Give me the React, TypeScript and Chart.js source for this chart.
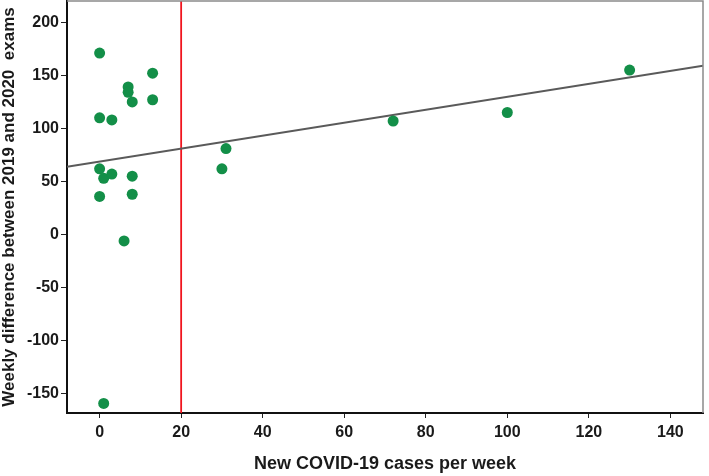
import { useEffect, useRef } from "react";
import { Chart, registerables } from "chart.js";

Chart.register(...registerables);

const casesPerWeek = [0, 13, 7, 7, 8, 13, 0, 3, 0, 1, 3, 8, 0, 8, 6, 1, 30, 31, 72, 100, 130];
const weeklyDifference = [171, 152, 139, 134, 125, 127, 110, 108, 62, 53, 57, 55, 36, 38, -6, -159, 62, 81, 107, 115, 155];
const fitLineX = [-8, 148];
const fitLineY = [64, 159];
const thresholdCases = 20;
const xTickValues = [0, 20, 40, 60, 80, 100, 120, 140];
const yTickValues = [-150, -100, -50, 0, 50, 100, 150, 200];

const FONT = "'Liberation Sans', Arial, sans-serif";
const TEXT = "#1a1a1a";

const framePlugin = {
  id: "frame",
  beforeDatasetsDraw(chart: any) {
    const { ctx, chartArea, scales } = chart;
    const x = scales.x.getPixelForValue(thresholdCases);
    ctx.save();
    ctx.strokeStyle = "#f0141e";
    ctx.lineWidth = 1.8;
    ctx.beginPath();
    ctx.moveTo(x, chartArea.top);
    ctx.lineTo(x, chartArea.bottom);
    ctx.stroke();
    ctx.restore();
  },
  afterDraw(chart: any) {
    const { ctx, chartArea } = chart;
    ctx.save();
    ctx.strokeStyle = "#8a8a8a";
    ctx.lineWidth = 1.5;
    ctx.beginPath();
    ctx.moveTo(chartArea.left, chartArea.top);
    ctx.lineTo(chartArea.right, chartArea.top);
    ctx.lineTo(chartArea.right, chartArea.bottom);
    ctx.stroke();
    ctx.restore();
  },
};

export default function App() {
  const ref = useRef<HTMLCanvasElement>(null);
  useEffect(() => {
    document.body.style.margin = "0";
    const points = casesPerWeek.map((x, i) => ({ x, y: weeklyDifference[i] }));
    const fit = fitLineX.map((x, i) => ({ x, y: fitLineY[i] }));
    const chart = new Chart(ref.current!, {
      type: "scatter",
      data: {
        datasets: [
          {
            data: points,
            backgroundColor: "#138f48",
            borderWidth: 0,
            pointRadius: 5.5,
            order: 0,
          },
          {
            type: "line",
            data: fit,
            borderColor: "#5a5a5a",
            borderWidth: 2,
            pointRadius: 0,
            fill: false,
            order: 1,
          } as any,
        ],
      },
      options: {
        responsive: false,
        animation: false,
        layout: { autoPadding: false, padding: { top: 1, right: 6, left: 0, bottom: 0 } },
        plugins: { legend: { display: false }, tooltip: { enabled: false } },
        scales: {
          x: {
            type: "linear",
            min: -8,
            max: 148,
            afterBuildTicks: (s: any) => {
              s.ticks = xTickValues.map((v) => ({ value: v }));
            },
            afterFit: (s: any) => {
              s.height = 63;
              s.paddingLeft = 0;
              s.paddingRight = 0;
            },
            grid: { drawOnChartArea: false, drawTicks: true, tickLength: 5, color: "#222" },
            border: { color: "#111", width: 2 },
            ticks: {
              font: { family: FONT, size: 16, weight: "bold" },
              color: TEXT,
              padding: 5,
              maxRotation: 0,
              autoSkip: false,
            },
            title: {
              display: true,
              text: "New COVID-19 cases per week",
              font: { family: FONT, size: 18, weight: "bold", lineHeight: 1 },
              color: TEXT,
              padding: { top: 0, bottom: 3 },
            },
          },
          y: {
            type: "linear",
            min: -168,
            max: 220,
            afterBuildTicks: (s: any) => {
              s.ticks = yTickValues.map((v) => ({ value: v }));
            },
            afterFit: (s: any) => {
              s.width = 67;
              s.paddingTop = 0;
              s.paddingBottom = 0;
            },
            grid: { drawOnChartArea: false, drawTicks: true, tickLength: 6, color: "#222" },
            border: { color: "#111", width: 2 },
            ticks: {
              font: { family: FONT, size: 16, weight: "bold" },
              color: TEXT,
              padding: 2,
              autoSkip: false,
            },
            title: {
              display: true,
              text: "Weekly difference between 2019 and 2020  exams",
              font: { family: FONT, size: 17, weight: "bold", lineHeight: 1 },
              color: TEXT,
              padding: { top: 0.5, bottom: 0 },
            },
          },
        },
      },
      plugins: [framePlugin],
    } as any);
    return () => chart.destroy();
  }, []);
  return <canvas ref={ref} width={709} height={476} style={{ display: "block" }} />;
}
